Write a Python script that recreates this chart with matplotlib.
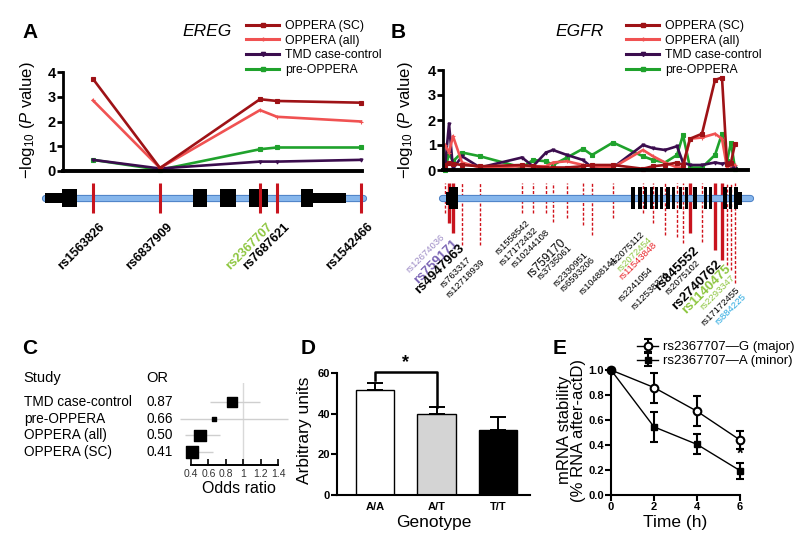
import numpy as np
import matplotlib
matplotlib.use('Agg')
import matplotlib.pyplot as plt
from matplotlib.patches import Rectangle
from matplotlib.lines import Line2D

plt.rcParams['font.family'] = ['Liberation Sans', 'DejaVu Sans']
plt.rcParams['mathtext.fontset'] = 'custom'
plt.rcParams['mathtext.rm'] = 'Liberation Sans'
plt.rcParams['mathtext.it'] = 'Liberation Sans:italic'
plt.rcParams['mathtext.bf'] = 'Liberation Sans:bold'

# ---------------- data ----------------
series_names = ['OPPERA (SC)', 'OPPERA (all)', 'TMD case-control', 'pre-OPPERA']
series_colors = ['#9e1216', '#f05252', '#3b0d4e', '#1fa22c']
series_markers = ['s', '+', 'v', 's']

# panel A, EREG (position = relative position along the drawn locus)
ereg_snps = ['rs1563826', 'rs6837909', 'rs2367707', 'rs7687621', 'rs1542466']
ereg_pos = [53, 120, 220, 237, 321]
ereg_sc = [3.72, 0.12, 2.90, 2.83, 2.76]
ereg_all = [2.85, 0.12, 2.46, 2.19, 2.00]
ereg_tmd = [0.45, 0.10, 0.38, 0.38, 0.45]
ereg_pre = [0.45, 0.05, 0.88, 0.95, 0.95]
ereg_exons = [(5, 22, 'utr'), (22, 37, 'cds'), (153, 167, 'cds'), (180, 196, 'cds'),
              (209, 228, 'cds'), (261, 273, 'cds'), (273, 306, 'utr')]

# panel B, EGFR
egfr_snps = ['rs12674036', 'rs759171', 'rs4947963', 'rs763317', 'rs12718939',
             'rs1558542', 'rs17172432', 'rs10244108', 'rs759170', 'rs3735061',
             'rs2330951', 'rs6593206', 'rs10488141', 'rs2075112', 'rs2072454',
             'rs11543848', 'rs2241054', 'rs12538371', 'rs845552', 'rs2075102',
             'rs2740762', 'rs1140475', 'rs2293347', 'rs17172455', 'rs884225']
egfr_pos = [45, 49, 53, 62, 80, 122, 133, 146, 153, 167, 183, 192, 213,
            243, 253, 265, 277, 283, 290, 302, 315, 322, 327, 331, 335]
egfr_sc = [0.20, 0.30, 0.25, 0.20, 0.15, 0.20, 0.15, 0.10, 0.10, 0.10, 0.15, 0.20, 0.20,
           0.05, 0.15, 0.20, 0.30, 0.20, 1.25, 1.45, 3.60, 3.70, 0.25, 0.30, 1.05]
egfr_all = [1.00, 0.70, 1.35, 0.30, 0.10, 0.15, 0.15, 0.15, 0.30, 0.35, 0.20, 0.15, 0.10,
            0.80, 0.55, 0.30, 0.10, 0.10, 1.25, 1.30, 1.45, 1.25, 0.10, 0.20, 0.20]
egfr_tmd = [0.10, 1.85, 0.05, 0.55, 0.10, 0.50, 0.15, 0.70, 0.80, 0.60, 0.40, 0.10, 0.10,
            1.00, 0.87, 0.80, 0.95, 0.30, 0.20, 0.20, 0.30, 0.25, 0.30, 0.15, 0.10]
egfr_pre = [0.00, 0.65, 0.35, 0.70, 0.55, 0.10, 0.40, 0.35, 0.20, 0.50, 0.85, 0.60, 1.10,
            0.55, 0.40, 0.30, 0.60, 1.40, 0.10, 0.10, 0.60, 1.45, 0.35, 1.10, 0.05]
egfr_highlight = ['rs759171', 'rs4947963', 'rs845552', 'rs2740762', 'rs1140475']
egfr_exons = [(46, 49, 'utr'), (49, 58, 'cds'), (230.5, 234.5, 'cds'), (237.5, 241.5, 'cds'),
              (244, 247, 'cds'), (249.5, 252.5, 'cds'), (255, 258, 'cds'), (260, 263, 'cds'),
              (265.5, 269.5, 'cds'), (272, 275, 'cds'), (278.5, 281.5, 'cds'), (285, 288, 'cds'),
              (292.5, 296.5, 'cds'), (303.5, 306.5, 'cds'), (309, 312, 'cds'), (322.5, 326.5, 'cds'),
              (328.5, 331.5, 'cds'), (333.5, 338, 'cds'), (338, 342, 'utr')]

# panel C
studies = ['TMD case-control', 'pre-OPPERA', 'OPPERA (all)', 'OPPERA (SC)']
or_est = [0.87, 0.66, 0.50, 0.41]
or_lo = [0.62, 0.27, 0.33, 0.34]
or_hi = [1.19, 1.51, 0.73, 0.65]
or_weight = [0.8, 0.12, 1.0, 1.0]

# panel D
genotypes = ['A/A', 'A/T', 'T/T']
expr_mean = [51.5, 40.0, 32.0]
expr_sem = [3.6, 3.5, 6.5]

# panel E
time_h = [0, 2, 4, 6]
stab_major = [1.0, 0.86, 0.67, 0.44]
stab_major_err = [0.0, 0.12, 0.12, 0.075]
stab_minor = [1.0, 0.545, 0.405, 0.195]
stab_minor_err = [0.0, 0.12, 0.08, 0.065]

# ---------------- layout ----------------
W, H = 798, 550
fig = plt.figure(figsize=(W / 100, H / 100), dpi=100)


def add_ax(l, t, r, b):
    return fig.add_axes([l / W, 1 - b / H, (r - l) / W, (b - t) / H])


def ftext(x, y, s, **kw):
    fig.text(x / W, 1 - y / H, s, **kw)


ylab = r'$-$log$_{10}$ ($P$ value)'


def assoc_panel(ax, pos, vals, spine_x, base_end, ppu, zero_px, top_px, bot_px):
    ax.set_ylim((zero_px - bot_px) / ppu, (zero_px - top_px) / ppu)
    for v, c, m in list(zip(vals, series_colors, series_markers))[::-1]:
        ax.plot(pos, v, color=c, lw=1.9, marker=m, ms=2.2, mew=0.8)
    for s in ['top', 'right']:
        ax.spines[s].set_visible(False)
    ax.spines['left'].set_position(('data', spine_x))
    ax.spines['left'].set_bounds(0, 4)
    ax.spines['left'].set_linewidth(2)
    ax.spines['bottom'].set_position(('data', 0))
    ax.spines['bottom'].set_bounds(spine_x, base_end)
    ax.spines['bottom'].set_linewidth(2.8)
    ax.set_xticks([])
    ax.set_yticks([0, 1, 2, 3, 4])
    ax.tick_params(axis='y', direction='out', length=4, width=2, labelsize=10.5, pad=1)
    for t in ax.get_yticklabels():
        t.set_fontweight('bold')
    ax.patch.set_visible(False)


def gene_track(ax, exons, y_mid, cds_h, utr_h, x0, x1):
    ax.plot([x0, x1], [y_mid, y_mid], color='#4a7fc4', lw=5.2, solid_capstyle='round', zorder=2)
    ax.plot([x0, x1], [y_mid, y_mid], color='#86b6ec', lw=3.8, solid_capstyle='round', zorder=2)
    for a, b, kind in exons:
        h = cds_h if kind == 'cds' else utr_h
        ax.add_patch(Rectangle((a, y_mid - h), b - a, 2 * h, facecolor='black',
                               edgecolor='none', zorder=3))


# ---- panel A ----
axA = add_ax(40, 60, 370, 290)
axA.set_xlim(0, 330)
assoc_panel(axA, ereg_pos, [ereg_sc, ereg_all, ereg_tmd, ereg_pre], 23, 322, 24.75, 171, 60, 290)
gene_track(axA, ereg_exons, -1.09, 0.36, 0.22, 5, 323)
axA.vlines(ereg_pos, -1.70, -0.48, color='#c8141e', lw=2.2, zorder=4)
for p, name in zip(ereg_pos, ereg_snps):
    col = '#8dc63f' if name == 'rs2367707' else 'black'
    axA.text(p + 6, -2.0, name, rotation=45, ha='right', va='top', rotation_mode='anchor',
             fontsize=9, fontweight='bold', color=col)
axA.set_ylabel(ylab, fontsize=12)
axA.yaxis.set_label_coords(-0.01, 0.74)

# ---- panel B ----
axB = add_ax(400, 58, 760, 300)
axB.set_xlim(0, 360)
assoc_panel(axB, egfr_pos, [egfr_sc, egfr_all, egfr_tmd, egfr_pre], 43, 348, 25, 170, 58, 300)
gene_track(axB, egfr_exons, -1.12, 0.44, 0.26, 42, 350)

egfr_lab_px = [(440, 233), (452, 237), (458, 242), (467, 255), (480, 257), (525, 218),
               (533, 225), (545, 228), (560, 237), (567, 243), (583, 250), (590, 255),
               (613, 255), (640, 230), (647, 235), (652, 240), (648, 265), (665, 270),
               (693, 245), (695, 258), (715, 258), (725, 263), (730, 273), (735, 285),
               (742, 292)]
egfr_tick_bottom_px = [213, 223, 233, 245, 245, 213, 213, 213, 222, 218, 225, 235, 218,
                       213, 223, 235, 237, 243, 233, 242, 250, 260, 265, 270, 283]
lab_colors = {'rs12674036': '#9d8bc6', 'rs759171': '#7a64b4', 'rs2072454': '#8dc63f',
              'rs11543848': '#e8262a', 'rs1140475': '#8dc63f', 'rs2293347': '#8dc63f',
              'rs884225': '#29a9e0'}
for p, name, (lx, ly), tb in zip(egfr_pos, egfr_snps, egfr_lab_px, egfr_tick_bottom_px):
    y_bot = (170 - tb) / 25
    if name in egfr_highlight:
        axB.vlines(p, y_bot, -0.52, color='#c8141e', lw=2.4, zorder=1)
    else:
        axB.vlines(p, y_bot, -0.52, color='#d0121b', lw=1.0, linestyles=(0, (2.2, 1.3)), zorder=1)
    if name in egfr_highlight:
        fs, fw = 9.5, 'bold'
    elif name == 'rs759170':
        fs, fw = 8.5, 'normal'
    else:
        fs, fw = 6.8, 'normal'
    axB.text(lx - 400, (170 - ly) / 25, name, rotation=45, ha='right', va='top',
             rotation_mode='anchor', fontsize=fs, fontweight=fw,
             color=lab_colors.get(name, 'black'))
axB.set_ylabel(ylab, fontsize=12)
axB.yaxis.set_label_coords(0.042, 0.745)

# legends A/B
handles = [Line2D([], [], color=c, lw=2.2, marker=m, ms=3, mew=1)
           for c, m in zip(series_colors, series_markers)]
for lx in (246, 626):
    fig.legend(handles, series_names, loc='upper left', bbox_to_anchor=(lx / W, 1 - 20 / H),
               frameon=False, fontsize=8.8, handlelength=2.7, handletextpad=0.5,
               labelspacing=0.22, borderaxespad=0, borderpad=0)

# ---- panel C ----
axC = add_ax(178, 383, 300, 465)
axC.set_xlim(0.2506, 1.653)
axC.set_ylim(3.78, -1.14)
rows = np.arange(len(studies))
axC.axvline(1, color='#d9d9d9', lw=1, zorder=0)
axC.hlines(rows, or_lo, or_hi, color='#cfcfcf', lw=1, zorder=1)
axC.scatter(or_est, rows, marker='s', s=np.array(or_weight) * 70, color='black', zorder=3)
for s in ['top', 'right', 'left']:
    axC.spines[s].set_visible(False)
axC.spines['bottom'].set_bounds(0.4, 1.4)
axC.spines['bottom'].set_linewidth(1.4)
axC.set_yticks([])
axC.set_xticks([0.4, 0.6, 0.8, 1.0, 1.2, 1.4])
axC.set_xticklabels(['0.4', '0.6', '0.8', '1', '1.2', '1.4'])
axC.tick_params(axis='x', direction='in', length=4, width=1.2, labelsize=7.5, pad=3,
                labelcolor='#333333')
axC.set_xlabel('Odds ratio', fontsize=11.5, labelpad=1)
axC.patch.set_visible(False)
tr = axC.get_yaxis_transform()
axC.text(-1.27, -1.44, 'Study', transform=tr, fontsize=10.5, va='center')
axC.text(-0.262, -1.44, 'OR', transform=tr, fontsize=10.5, va='center')
for r, name, v in zip(rows, studies, or_est):
    axC.text(-1.262, r, name, transform=tr, fontsize=9.8, va='center')
    axC.text(-0.262, r, '%.2f' % v, transform=tr, fontsize=9.8, va='center')

# ---- panel D ----
axD = add_ax(337, 365, 530, 495)
xD = np.arange(len(genotypes))
axD.bar(xD, expr_mean, width=0.62, color=['white', '#d4d4d4', 'black'],
        edgecolor='black', lw=1, zorder=2)
axD.errorbar(xD, expr_mean, yerr=[np.zeros(3), expr_sem], fmt='none', ecolor='black',
             elinewidth=1.4, capsize=6, capthick=1.4, zorder=1)
top = 60.5
axD.plot([0, 0, 1, 1], [expr_mean[0] + expr_sem[0] + 1.5, top, top, expr_mean[1] + expr_sem[1]],
         color='black', lw=1.8)
axD.text(0.5, top + 0.3, '*', ha='center', va='bottom', fontsize=13, fontweight='bold')
axD.set_xlim(-0.618, 2.52)
axD.set_ylim(0, 63.9)
for s in ['top', 'right']:
    axD.spines[s].set_visible(False)
axD.spines['left'].set_bounds(0, 60)
for s in ['left', 'bottom']:
    axD.spines[s].set_linewidth(1.5)
axD.set_yticks([0, 20, 40, 60])
axD.set_xticks(xD)
axD.set_xticklabels(genotypes)
axD.tick_params(axis='y', length=4, width=1.5, labelsize=8, pad=1)
axD.tick_params(axis='x', length=0, labelsize=8, pad=5)
for t in axD.get_xticklabels() + axD.get_yticklabels():
    t.set_fontweight('bold')
axD.set_ylabel('Arbitrary units', fontsize=12.5)
axD.yaxis.set_label_coords(-0.13, 0.5)
axD.set_xlabel('Genotype', fontsize=12.5, labelpad=2)
axD.patch.set_visible(False)

# ---- panel E ----
axE = add_ax(611, 370, 740, 495)
axE.errorbar(time_h, stab_major, yerr=stab_major_err, fmt='-o', color='black', mfc='white',
             mec='black', mew=1.5, ms=5.5, lw=1, elinewidth=1.5, capsize=3, capthick=1.5,
             clip_on=False, zorder=3, label='rs2367707\u2014G (major)')
axE.errorbar(time_h, stab_minor, yerr=stab_minor_err, fmt='-s', color='black', ms=4.5, lw=1,
             elinewidth=1.5, capsize=3, capthick=1.5, clip_on=False, zorder=3,
             label='rs2367707\u2014A (minor)')
axE.text(6, stab_minor[-1] + stab_minor_err[-1] + 0.005, '*', ha='center', va='bottom',
         fontsize=12, fontweight='bold')
axE.set_xlim(0, 6)
axE.set_ylim(0, 1)
for s in ['top', 'right']:
    axE.spines[s].set_visible(False)
for s in ['left', 'bottom']:
    axE.spines[s].set_linewidth(1.5)
axE.set_xticks([0, 2, 4, 6])
axE.set_yticks([0, 0.2, 0.4, 0.6, 0.8, 1.0])
axE.set_yticklabels(['0.0', '0.2', '0.4', '0.6', '0.8', '1.0'])
axE.tick_params(length=4, width=1.5, labelsize=8, pad=1)
for t in axE.get_xticklabels() + axE.get_yticklabels():
    t.set_fontweight('bold')
axE.set_ylabel('mRNA stability\n(% RNA after-actD)', fontsize=12, linespacing=0.95)
axE.yaxis.set_label_coords(-0.19, 0.52)
axE.set_xlabel('Time (h)', fontsize=12.5, labelpad=2)
axE.legend(loc='upper left', bbox_to_anchor=(637 / W, 1 - 341 / H),
           bbox_transform=fig.transFigure, frameon=False, fontsize=9.5, handlelength=1.6,
           handletextpad=0.4, labelspacing=0.15, borderaxespad=0, borderpad=0)
axE.patch.set_visible(False)

# panel letters and gene titles
for letter, (x, y) in zip('ABCDE', [(30, 32), (398, 32), (30, 348), (308, 348), (560, 348)]):
    ftext(x, y, letter, fontsize=15, fontweight='bold', ha='center', va='center')
ftext(207, 32, 'EREG', fontsize=12.5, style='italic', ha='center', va='center')
ftext(580, 32, 'EGFR', fontsize=12.5, style='italic', ha='center', va='center')

fig.savefig('out.png', dpi=100)
